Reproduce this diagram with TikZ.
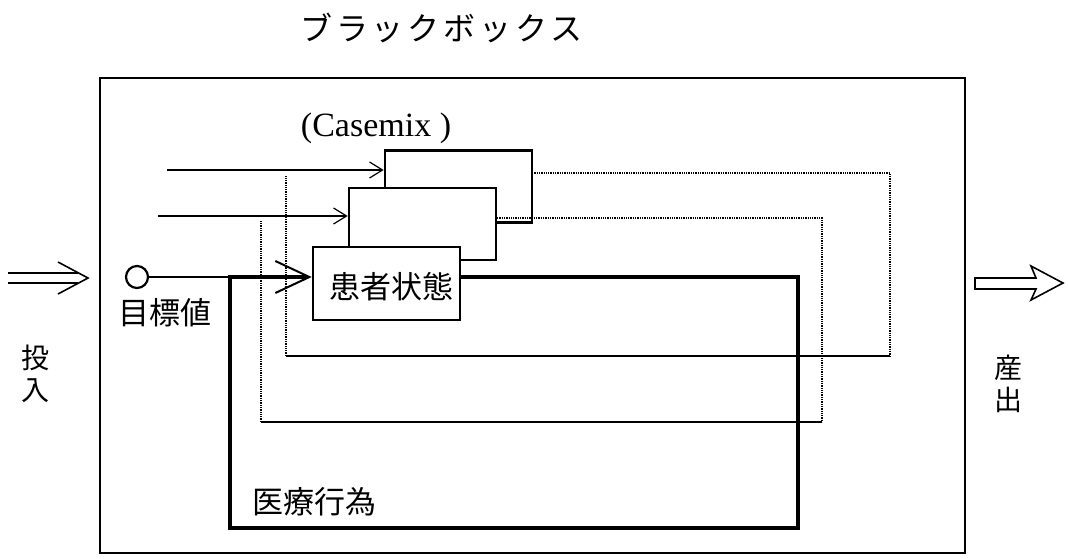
\documentclass[tikz,border=0pt]{standalone}
\usepackage{fontspec}
\setmainfont{Liberation Serif}
\newfontfamily\jp{Noto Sans CJK JP}
\newfontfamily\jpwide[LetterSpace=12]{Noto Sans CJK JP}
\usetikzlibrary{arrows.meta}
\begin{document}
\begin{tikzpicture}[x=1pt,y=-1pt,
  pbox/.style={draw, line width=2.6pt, fill=white, minimum width=147pt, minimum height=72pt, inner sep=0pt},
  thinline/.style={line width=1.3pt},
  fbdot/.style={densely dotted, line width=1.3pt},
  thinarrow/.style={line width=1.2pt, -{Straight Barb[length=13pt,width=16pt]}},
  thickarrow/.style={line width=3.2pt, -{Straight Barb[length=34pt,width=32pt,line width=2pt]}},
  thickline/.style={line width=3.2pt},
  lbl/.style={inner sep=0pt, font=\jp\fontsize{31}{36}\selectfont},
  vlbl/.style={inner sep=0pt, align=center, font=\jp\fontsize{28}{32}\selectfont}
]
\useasboundingbox (0,0) rectangle (1068,558);

% title and outer box
\node[inner sep=0pt, anchor=west, font=\jpwide\fontsize{32}{36}\selectfont] (title) at (300,28) {ブラックボックス};
\draw[line width=1.7pt] (100,78) rectangle (965,553);

\node[inner sep=0pt, font=\fontsize{34}{40}\selectfont] (cm) at (376,128) {(Casemix )};

% boxes
\node[pbox] (b3) at (458.5,186.5) {};
\node[pbox] (b2) at (422.5,224) {};
\node[pbox, minimum height=73pt] (b1) at (386.5,283.5) {};
\node[lbl] (b1t) at (391,287) {患者状態};

% target
\node[draw, circle, line width=2.2pt, minimum size=22pt, inner sep=0pt] (tgt) at (137,277) {};
\node[lbl] (tgtl) at (165,313) {目標値};
\node[lbl, anchor=west] (act) at (252,502) {医療行為};

% coordinates
\coordinate (in3) at (167,170);
\coordinate (in2) at (158,216);
\coordinate (o3) at (532,173);
\coordinate (r3a) at (890,173);
\coordinate (r3b) at (890,356);
\coordinate (r3c) at (286,356);
\coordinate (r3d) at (286,176);
\coordinate (o2) at (497,218);
\coordinate (r2a) at (822,218);
\coordinate (r2b) at (822,422);
\coordinate (r2c) at (261,422);
\coordinate (r2d) at (261,221);
\coordinate (o1) at (460,277);
\coordinate (r1a) at (798,277);
\coordinate (r1b) at (798,528);
\coordinate (r1c) at (230,528);
\coordinate (r1d) at (230,277);

% inputs
\draw[thinarrow] (in3) -- (in3 -| b3.west);
\draw[thinarrow] (in2) -- (in2 -| b2.west);

% feedback loop 1 (back box)
\draw[fbdot] (o3) -- (r3a) -- (r3b);
\draw[thinline] (r3b) -- (r3c);
\draw[fbdot] (r3c) -- (r3d);

% feedback loop 2 (middle box)
\draw[fbdot] (o2) -- (r2a) -- (r2b);
\draw[thinline] (r2b) -- (r2c);
\draw[fbdot] (r2c) -- (r2d);

% loop 3 (patient state, thick)
\draw[thinline] (tgt.east) -- (r1d);
\draw[thickline] (o1) -- (r1a) -- (r1b) -- (r1c) -- (r1d);
\draw[thickarrow] ([xshift=-1.6pt]r1d) -- (r1d -| b1.west);

% input / output arrows
\node[vlbl] (inl) at (35,374) {投\\入};
\node[vlbl] (outl) at (1008,384) {産\\出};
\draw[line width=1.6pt] (8,273) -- (78,273) (8,283) -- (78,283);
\draw[line width=1.6pt, line join=miter] (58,262) -- (88,278) -- (58,294);
\draw[line width=1.6pt, line join=miter] (975,278) -- (1036,278) -- (1031,266) -- (1063,283) -- (1031,300) -- (1036,289) -- (975,289) -- cycle;
\end{tikzpicture}
\end{document}
